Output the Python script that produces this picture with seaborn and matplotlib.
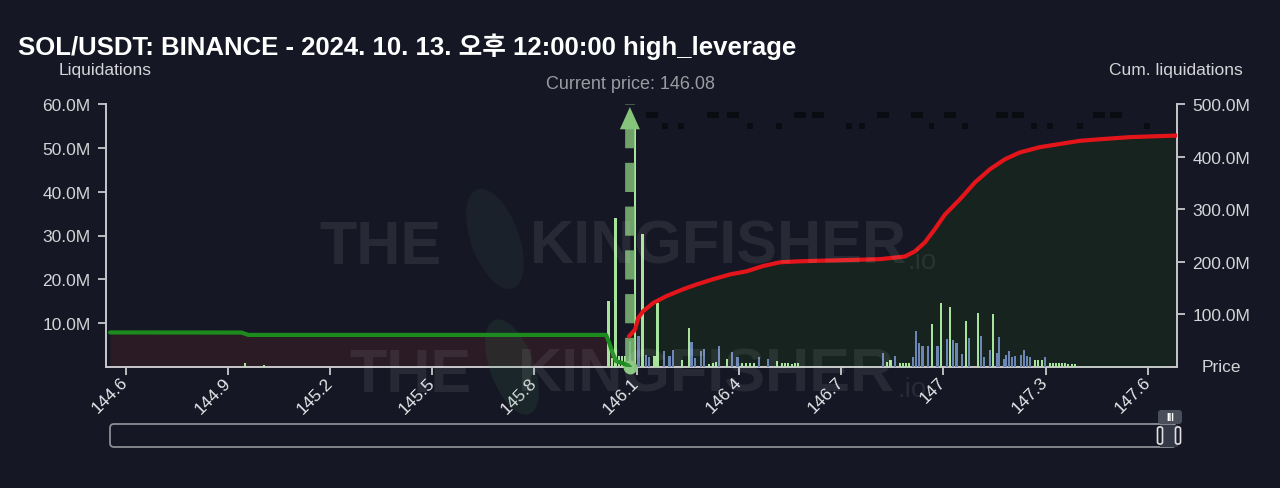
import matplotlib
matplotlib.use('Agg')
import matplotlib.pyplot as plt
from matplotlib.patches import FancyBboxPatch, Rectangle, Ellipse
import seaborn as sns
import pandas as pd

# ---------------- data ----------------
title = 'SOL/USDT: BINANCE - 2024. 10. 13. 오후 12:00:00 high_leverage'
current_price = 146.08

x_ticks = [144.6, 144.9, 145.2, 145.5, 145.8, 146.1, 146.4, 146.7, 147.0, 147.3, 147.6]
x_tick_labels = ['144.6', '144.9', '145.2', '145.5', '145.8', '146.1', '146.4', '146.7', '147', '147.3', '147.6']
y_left_ticks = [10, 20, 30, 40, 50, 60]          # M
y_right_ticks = [100, 200, 300, 400, 500]        # M

# liquidations per price level (M), light green series
green_px = [144.951, 145.006,
            146.017, 146.027, 146.038, 146.048, 146.057, 146.066, 146.095, 146.117,
            146.152, 146.161, 146.232, 146.253, 146.313, 146.323, 146.333, 146.366,
            146.409, 146.421, 146.432, 146.444, 146.511, 146.526, 146.535, 146.544,
            146.556, 146.565, 146.573, 146.609, 146.638, 146.668, 146.697, 146.726,
            146.756, 146.785, 146.834, 146.845, 146.873, 146.882, 146.890, 146.899,
            146.966, 146.993, 147.020, 147.066, 147.103, 147.147, 147.269, 147.279,
            147.289, 147.313, 147.322, 147.331, 147.339, 147.348, 147.357, 147.366,
            147.378, 147.386, 147.416, 147.445, 147.475, 147.504, 147.533, 147.563,
            147.592, 147.621, 147.651]
green_val = [0.9, 0.5,
             15.1, 2.0, 34.1, 2.5, 2.5, 2.6, 55.0, 30.3,
             2.5, 14.6, 1.5, 8.8, 0.6, 1.0, 1.2, 1.8,
             1.0, 1.0, 0.8, 1.0, 1.4, 1.0, 0.8, 0.8,
             0.7, 0.8, 1.0, 0.3, 0.3, 0.3, 0.3, 0.3,
             0.3, 0.3, 1.2, 1.6, 0.8, 0.8, 0.9, 0.8,
             9.8, 14.5, 13.6, 10.4, 12.3, 12.1, 1.6, 1.6,
             1.6, 1.0, 0.8, 0.9, 1.0, 0.9, 0.8, 0.7,
             0.7, 0.6, 0.3, 0.3, 0.3, 0.3, 0.3, 0.3,
             0.3, 0.3, 0.3]

# liquidations per price level (M), blue series
blue_px = [146.080, 146.105, 146.127, 146.136, 146.180, 146.196, 146.207, 146.261,
           146.271, 146.288, 146.297, 146.342, 146.379, 146.396, 146.460, 146.486,
           146.822, 146.858, 146.912, 146.920, 146.929, 146.939, 146.956, 146.983,
           147.010, 147.029, 147.039, 147.054, 147.075, 147.110, 147.120, 147.137,
           147.157, 147.164, 147.178, 147.184, 147.192, 147.201, 147.210, 147.227,
           147.237, 147.245, 147.254, 147.298]
blue_val = [6.0, 7.0, 2.7, 2.2, 3.7, 2.5, 3.9, 5.6,
            2.0, 3.7, 4.2, 4.7, 3.4, 2.2, 2.2, 1.9,
            3.1, 2.4, 2.2, 8.2, 5.4, 4.7, 4.8, 4.8,
            6.3, 6.2, 5.4, 2.9, 6.7, 7.1, 2.2, 3.8,
            3.3, 6.8, 1.8, 2.7, 3.7, 2.2, 2.5, 2.7,
            3.9, 2.5, 2.2, 2.2]

# cumulative liquidations below current price (M)
short_cum_px = [144.554, 144.940, 144.960, 146.010, 146.020, 146.030, 146.040, 146.060, 146.075, 146.080]
short_cum_val = [65.7, 65.5, 61.0, 61.0, 45.0, 25.0, 11.0, 7.0, 3.0, 0.0]

# cumulative liquidations above current price (M)
long_cum_px = [146.077, 146.095, 146.105, 146.119, 146.149, 146.188, 146.237, 146.276,
               146.325, 146.374, 146.423, 146.471, 146.520, 146.579, 146.697, 146.814,
               146.887, 146.917, 146.946, 146.975, 147.005, 147.049, 147.093, 147.137,
               147.181, 147.225, 147.284, 147.342, 147.401, 147.460, 147.548, 147.636,
               147.686]
long_cum_val = [58, 71, 94, 106, 122, 135, 148, 157,
                167, 176, 182, 192, 199, 201, 203, 205,
                210, 220, 237, 262, 290, 319, 351, 376,
                395, 408, 418, 424, 430, 433, 437, 439,
                440]

# dark markers along the top
mark_px = [146.136, 146.154, 146.315, 146.333, 146.374, 146.392, 146.571, 146.588,
           146.623, 146.641, 146.814, 146.832, 146.914, 146.931, 147.011, 147.028,
           147.163, 147.181, 147.210, 147.228, 147.448, 147.466, 147.498, 147.516,
           146.183, 146.230, 146.433, 146.518, 146.724, 146.762, 146.965, 147.063,
           147.266, 147.313, 147.401, 147.598]
mark_val = [57.5] * 24 + [55.0] * 12

# ---------------- style ----------------
BG = '#151824'
AXC = '#c8c8cc'
TXT = '#d4d4d8'

sns.set_style('dark')
plt.rcParams['font.family'] = ['Liberation Sans', 'Noto Sans CJK KR', 'DejaVu Sans']

W, H = 1280, 489
fig = plt.figure(figsize=(12.8, 4.89), dpi=100)
fig.patch.set_facecolor(BG)

x0, x1, ytop, ybot = 106, 1177, 105, 368
rect = [x0 / W, 1 - ybot / H, (x1 - x0) / W, (ybot - ytop) / H]
ax = fig.add_axes(rect)
ax2 = ax.twinx()
ax3 = ax.twinx()
ax2.set_zorder(1)
ax.set_zorder(2)
ax3.set_zorder(3)
ax.patch.set_visible(False)
ax3.patch.set_visible(False)
ax2.patch.set_facecolor(BG)

# cumulative fills (right axis)
ax2.fill_between(short_cum_px, short_cum_val, 0, color='#2a1b25', lw=0)
ax2.fill_between(long_cum_px, long_cum_val, 0, color='#16231e', lw=0)

# bars (left axis)
ax.bar(green_px, green_val, width=0.0065, color='#a8e39c', lw=0, zorder=3)
ax.bar(blue_px, blue_val, width=0.0065, color='#6d86b6', lw=0, zorder=3)

mk = pd.DataFrame({'price': mark_px, 'value': mark_val})
sns.scatterplot(data=mk, x='price', y='value', ax=ax, marker='s', s=16,
                color='#0b0c12', edgecolor='none', zorder=4, legend=False)

# current price marker
ax.plot([current_price, current_price], [0, 60], color='#86c47c', alpha=0.8,
        lw=7, dashes=(3, 1.5), zorder=5, solid_capstyle='butt')
ax.annotate('', xy=(current_price, 59.3), xytext=(current_price, 54.2),
            arrowprops=dict(arrowstyle='-|>,head_length=1.0,head_width=0.45',
                            color='#86c47c', lw=0, mutation_scale=16,
                            shrinkA=0, shrinkB=0), zorder=6)
ax.scatter([current_price], [0], s=80, color='#86c47c', zorder=6, clip_on=False)

# cumulative lines
sns.lineplot(x=short_cum_px, y=short_cum_val, ax=ax3, color='#1c8a1c', lw=3, zorder=5)
sns.lineplot(x=long_cum_px, y=long_cum_val, ax=ax3, color='#e3151b', lw=3, zorder=5)

xmin, xmax = 144.5422, 147.686
for a in (ax, ax2, ax3):
    a.set_xlim(xmin, xmax)
    a.grid(False)
    a.set_xlabel('')
    a.set_ylabel('')
ax.set_ylim(0, 60)
ax2.set_ylim(0, 500)
ax3.set_ylim(0, 500)

ax.set_yticks(y_left_ticks)
ax.set_yticklabels([f'{v:.1f}M' for v in y_left_ticks])
ax2.set_yticks(y_right_ticks)
ax2.set_yticklabels([f'{v:.1f}M' for v in y_right_ticks])
ax3.yaxis.set_visible(False)
ax3.xaxis.set_visible(False)
ax2.xaxis.set_visible(False)
ax.set_xticks(x_ticks)
ax.set_xticklabels(x_tick_labels, rotation=45, ha='right', va='center', rotation_mode='anchor')

ax.tick_params(axis='y', direction='out', length=6, width=1.3, color=AXC,
               labelcolor=TXT, labelsize=12.5, pad=5, left=True)
ax.tick_params(axis='x', direction='out', length=6, width=1.3, color=AXC,
               labelcolor='#e6e6ea', labelsize=12.5, pad=3, bottom=True)
ax2.tick_params(axis='y', direction='out', length=6, width=1.3, color=AXC,
                labelcolor=TXT, labelsize=12.5, pad=5, right=True)

for a in (ax, ax2, ax3):
    for s in a.spines.values():
        s.set_visible(False)
ax.spines['left'].set_visible(True)
ax.spines['bottom'].set_visible(True)
ax2.spines['right'].set_visible(True)
for s in (ax.spines['left'], ax.spines['bottom'], ax2.spines['right']):
    s.set_color(AXC)
    s.set_linewidth(1.4)

# texts
fig.text(18 / W, 1 - 47 / H, title, color='white', fontsize=18.5, fontweight='bold',
         ha='left', va='center')
fig.text(105 / W, 1 - 71 / H, 'Liquidations', color=TXT, fontsize=12.5, ha='center', va='center')
fig.text(1176 / W, 1 - 71 / H, 'Cum. liquidations', color=TXT, fontsize=12.5, ha='center', va='center')
fig.text(1202 / W, 1 - 368 / H, 'Price', color=TXT, fontsize=12.5, ha='left', va='center')
fig.text(630 / W, 1 - 85 / H, 'Current price: 146.08', color='#9a9ca2', fontsize=13,
         ha='center', va='center')

# overlay: watermark + range slider (pixel coordinates)
ov = fig.add_axes([0, 0, 1, 1])
ov.set_zorder(10)
ov.set_xlim(0, W)
ov.set_ylim(H, 0)
ov.axis('off')
ov.patch.set_visible(False)

# faint bird logos of the watermark
ov.add_patch(Ellipse((495, 240), 48, 105, angle=-20, fc='#6f9a86', alpha=0.07, ec='none'))
ov.add_patch(Ellipse((512, 368), 44, 100, angle=-20, fc='#3f8f55', alpha=0.12, ec='none'))

wm = dict(color='white', alpha=0.08, fontweight='bold', va='center')
ov.text(380, 248, 'THE', fontsize=44, ha='center', **wm)
ov.text(718, 248, 'KINGFISHER', fontsize=44, ha='center', **wm)
ov.text(908, 262, '.io', fontsize=20, ha='left', color='white', alpha=0.08, va='center')
ov.text(410, 376, 'THE', fontsize=44, ha='center', **wm)
ov.text(707, 376, 'KINGFISHER', fontsize=44, ha='center', **wm)
ov.text(897, 390, '.io', fontsize=20, ha='left', color='white', alpha=0.08, va='center')

ov.add_patch(FancyBboxPatch((110, 425), 1066, 23, boxstyle='round,pad=0,rounding_size=4',
                            fc='none', ec='#8c8e96', lw=1.3))
ov.add_patch(Rectangle((1160, 425.5), 18, 22, fc='#353846', ec='none'))
for hx in (1157.5, 1175.5):
    ov.add_patch(FancyBboxPatch((hx, 428), 5, 17, boxstyle='round,pad=0,rounding_size=2',
                                fc='#1b1e2a', ec='#e0e0e4', lw=1.2))
ov.add_patch(FancyBboxPatch((1158, 411), 24, 14, boxstyle='round,pad=0,rounding_size=3',
                            fc='#4a4d5a', ec='none'))
ov.text(1170, 418, 'III', color='white', fontsize=7, ha='center', va='center', fontweight='bold')

plt.savefig('out.png', dpi=100, facecolor=BG)
